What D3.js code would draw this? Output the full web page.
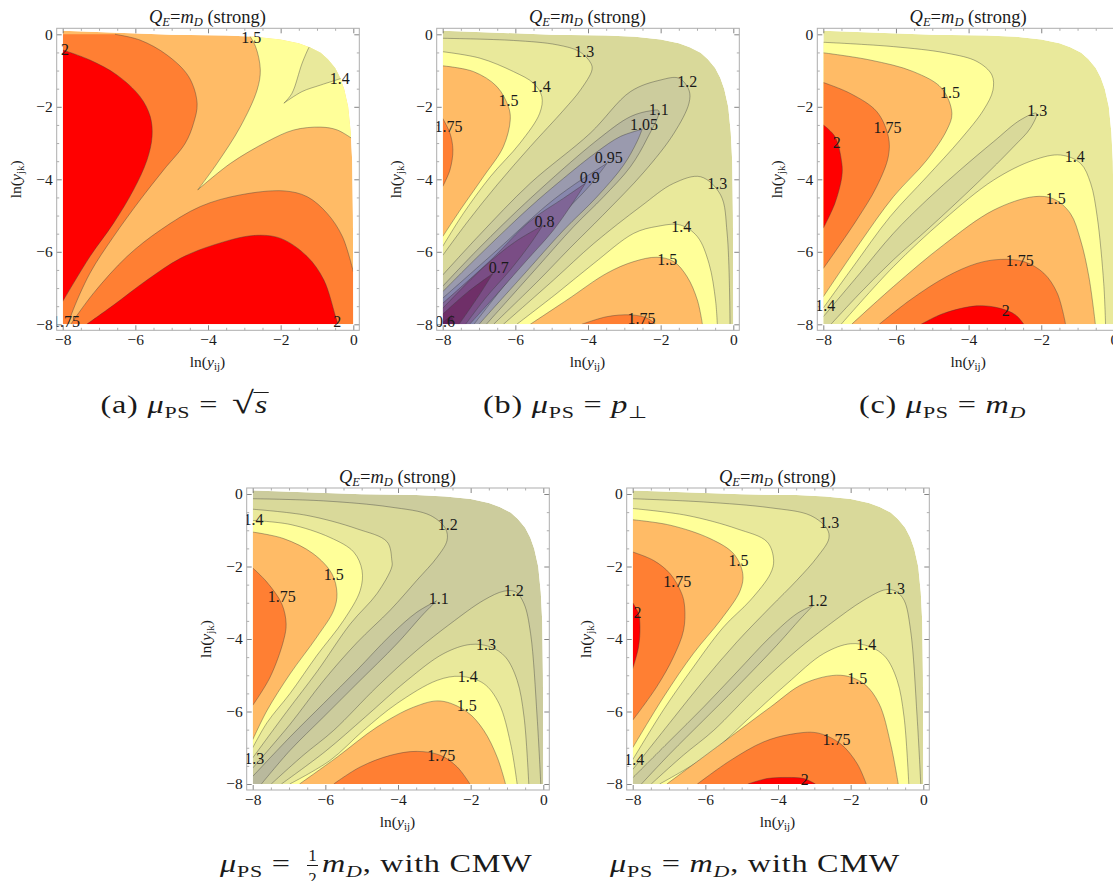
<!DOCTYPE html>
<html><head><meta charset="utf-8">
<script src="https://cdn.jsdelivr.net/npm/d3@7"></script>
<style>
html,body{margin:0;padding:0;background:#fff;overflow:hidden}
svg{display:block}
text{font-family:"Liberation Serif",serif;fill:#1a1a1a}
</style></head><body>
<svg id="c" width="1113" height="881"></svg>
<script>
// ---------- data ----------
const bandNames = ["gt2","b175","b15","b14","b13","b12","b11","b105","b095","b09","b08","b07","b06","lt06"];
const bandColors = ["#ff0000","#ff7f33","#ffbb66","#ffff99","#e9e99b","#d9d99a","#cccc9d","#b9b99d","#9a9aae","#8787ad","#7f6596","#7a4d85","#6f2f68","#5f1f5c"];
const majorTicks = [-8,-6,-4,-2,0];
const minorTicks = [-7.5,-7,-6.5,-5.5,-5,-4.5,-3.5,-3,-2.5,-1.5,-1,-0.5];
const domainEdge = [[-8,0.1],[-5,-0.01],[-3.5,-0.03],[-2.7,-0.07],[-2,-0.14],[-1.5,-0.25],[-1.2,-0.36],[-0.9,-0.51],[-0.7,-0.69],[-0.5,-0.93],[-0.36,-1.2],[-0.25,-1.51],[-0.14,-2.0],[-0.07,-2.7],[-0.03,-3.5],[-0.01,-5],[0,-8],[-8,-8]];

const aBase = "b15";
const aContours = [
 ["b175",[[-6.56,0],[-5.87,-.16],[-5.13,-.57],[-4.53,-1.17],[-4.3,-1.9],[-4.4,-2.46],[-4.63,-3.01],[-5.22,-3.74],[-5.87,-4.57],[-6.6,-5.58],[-7.25,-6.59],[-7.75,-7.7],[-7.84,-8]],[[-8,-8],[-8,0]]],
 ["gt2",[[-8,-.43],[-7.25,-.71],[-6.51,-1.12],[-5.87,-1.72],[-5.59,-2.27],[-5.54,-2.82],[-5.68,-3.47],[-6.05,-4.29],[-6.6,-5.21],[-7.25,-6.13],[-8,-7.37]],[]],
 ["b175",[[-7.78,-8],[-7.15,-7.14],[-6.23,-6.13],[-5.31,-5.4],[-4.21,-4.75],[-3.11,-4.43],[-1.91,-4.32],[-1.27,-4.48],[-.72,-4.94],[-.3,-5.58],[0,-6.55]],[[0,-8]]],
 ["gt2",[[-7.34,-8],[-6.6,-7.47],[-5.68,-6.78],[-4.76,-6.18],[-3.84,-5.81],[-2.74,-5.55],[-2,-5.63],[-1.27,-6.13],[-.81,-6.78],[-.49,-7.78],[-.42,-8]],[]],
 ["b14",[[-2.88,0],[-2.69,-.34],[-2.56,-.98],[-2.65,-1.54],[-3.11,-2.55],[-3.75,-3.56],[-4.28,-4.29],[-4.28,-4.29],[-3.38,-3.56],[-2.37,-2.96],[-1.64,-2.64],[-.9,-2.56],[-.44,-2.64],[0,-2.9]],[[0,0]]],
 ["b13",[[-1.18,-.3],[-1.22,-.36],[-1.41,-.8],[-1.69,-1.63],[-1.91,-1.9],[-1.91,-1.9],[-1.41,-1.58],[-.9,-1.4],[-.3,-1.2],[-.1,-1.1]],[[0,0]]]
];
const aLabels = [["1.5",-2.81,-.09],["2",-7.94,-.43],["1.4",-.37,-1.21],["1.75",-7.91,-7.91],["2",-.44,-7.91]];

const bBase = "b12";
const bContours = [
 ["b13",[[-8,-.11],[-6.05,-.17],[-4.85,-.29],[-4.23,-.48],[-3.92,-.8],[-3.89,-.98],[-4.21,-1.54],[-4.67,-2.09],[-5.59,-3.1],[-6.5,-4.15],[-7.3,-5.15],[-8,-6.1]],[]],
 ["b14",[[-8,-.48],[-6.97,-.66],[-6.05,-1.03],[-5.5,-1.35],[-5.27,-1.72],[-5.33,-2.18],[-5.87,-3],[-6.69,-3.93],[-7.43,-4.94],[-8,-5.85]],[]],
 ["b15",[[-8,-.87],[-7.15,-1.03],[-6.51,-1.44],[-6.19,-2],[-6.14,-2.36],[-6.33,-3.1],[-6.88,-3.93],[-7.52,-4.85],[-8,-5.58]],[]],
 ["b175",[[-8,-2.32],[-7.8,-2.73],[-7.72,-3.19],[-7.8,-3.74],[-8,-4.2]],[]],
 ["b13",[[-6.33,-8],[-4.95,-6.78],[-3.84,-5.77],[-2.55,-4.75],[-1.64,-4.11],[-.9,-3.93],[-.35,-4.43],[-.17,-5.49],[-.09,-8]],[]],
 ["b14",[[-5.96,-8],[-4.85,-7.14],[-3.84,-6.32],[-2.74,-5.49],[-2.1,-5.3],[-1.46,-5.26],[-.99,-5.58],[-.67,-6.32],[-.49,-7.33],[-.44,-8]],[]],
 ["b15",[[-5.59,-8],[-4.58,-7.33],[-3.48,-6.59],[-2.74,-6.27],[-2.1,-6.15],[-1.64,-6.27],[-1.27,-6.69],[-.99,-7.33],[-.85,-8]],[]],
 ["b175",[[-4.17,-8],[-3.48,-7.79],[-2.83,-7.74],[-2.37,-7.83],[-2.14,-8]],[]],
 ["b11",[[-8,-6.64],[-7,-5.55],[-5.59,-4.11],[-3.94,-2.73],[-2.83,-1.58],[-2,-1.26],[-1.5,-1.21],[-1.22,-1.54],[-1.22,-1.9],[-1.64,-2.74],[-2.46,-3.8],[-3.6,-5],[-4.5,-5.9],[-5.35,-6.78],[-6.6,-8]],[[-8,-8]]],
 ["b105",[[-8,-6.95],[-7,-5.9],[-5.59,-4.53],[-3.75,-2.92],[-2.83,-2.27],[-2.28,-2.11],[-2.05,-2.11],[-2.37,-2.87],[-2.83,-3.65],[-3.57,-4.48],[-4.4,-5.31],[-5.4,-6.43],[-6.3,-7.44],[-6.8,-8]],[[-8,-8]]],
 ["b095",[[-8,-7.1],[-7,-6.1],[-5.59,-4.76],[-4.67,-3.97],[-3.75,-3.24],[-3.11,-2.82],[-2.51,-2.62],[-2.51,-2.62],[-2.65,-2.96],[-3.02,-3.61],[-3.75,-4.48],[-4.67,-5.4],[-5.7,-6.55],[-6.6,-7.55],[-7,-8]],[[-8,-8]]],
 ["b09",[[-8,-7.28],[-6.5,-5.95],[-5.13,-4.71],[-4.4,-4.16],[-3.48,-3.56],[-3.48,-3.56],[-3.94,-4.16],[-4.67,-4.94],[-5.5,-5.95],[-6.4,-7.05],[-7.14,-8]],[[-8,-8]]],
 ["b08",[[-8,-7.42],[-6.7,-6.25],[-5.59,-5.15],[-4.67,-4.52],[-4.07,-4.11],[-4.07,-4.11],[-4.4,-4.62],[-4.95,-5.4],[-5.7,-6.25],[-6.6,-7.27],[-7.26,-8]],[[-8,-8]]],
 ["b07",[[-8,-7.56],[-6.9,-6.45],[-6,-5.72],[-5.25,-5.28],[-5.25,-5.28],[-5.6,-5.8],[-6.14,-6.5],[-6.8,-7.25],[-7.37,-8]],[[-8,-8]]],
 ["b06",[[-8,-7.72],[-7.3,-7.1],[-6.62,-6.6],[-6.62,-6.6],[-7,-7.2],[-7.55,-8]],[[-8,-8]]],
 ["lt06",[[-8,-7.95],[-7.75,-7.75],[-7.75,-7.75],[-7.7,-8]],[[-8,-8]]]
];
const bLabels = [["1.3",-4.1,-.46],["1.2",-1.27,-1.29],["1.4",-5.3,-1.44],["1.5",-6.19,-1.83],["1.1",-2.05,-2.07],["1.05",-2.46,-2.48],["1.75",-7.84,-2.55],["0.95",-3.43,-3.4],["0.9",-3.95,-3.95],["1.3",-.44,-4.11],["0.8",-5.2,-5.17],["1.4",-1.43,-5.31],["1.5",-1.82,-6.2],["0.7",-6.46,-6.44],["0.6",-7.94,-7.91],["1.75",-2.53,-7.85]];

const cBase = "b13";
const cContours = [
 ["b14",[[-8,-.22],[-6.07,-.34],[-4.6,-.52],[-3.77,-.75],[-3.36,-1.12],[-3.33,-1.54],[-3.59,-2.09],[-4.23,-2.91],[-5.15,-3.93],[-6.16,-5.03],[-7.17,-6.4],[-8,-7.55]],[]],
 ["b15",[[-8,-.51],[-6.71,-.71],[-5.52,-1.03],[-4.74,-1.49],[-4.46,-2.18],[-4.6,-2.64],[-5.15,-3.47],[-6.07,-4.48],[-6.99,-5.75],[-8,-7.24]],[]],
 ["b175",[[-8,-1.33],[-7.26,-1.63],[-6.53,-2.13],[-6.21,-2.82],[-6.21,-3.37],[-6.53,-4.2],[-7.08,-5.12],[-8,-6.46]],[]],
 ["gt2",[[-8,-2.5],[-7.68,-2.82],[-7.49,-3.56],[-7.49,-3.93],[-7.68,-4.66],[-8,-5.35]],[]],
 ["b14",[[-7.51,-8],[-6.07,-6.41],[-4.69,-5.12],[-3.31,-4.02],[-2.21,-3.47],[-1.47,-3.33],[-.92,-3.56],[-.64,-4.11],[-.46,-5.03],[-.28,-6.87],[-.23,-8]],[]],
 ["b15",[[-7.22,-8],[-6.07,-6.96],[-4.69,-5.81],[-3.31,-4.85],[-2.21,-4.48],[-1.66,-4.54],[-1.2,-4.94],[-.92,-5.67],[-.69,-6.68],[-.51,-8]],[]],
 ["b175",[[-6.46,-8],[-5.61,-7.33],[-4.6,-6.68],[-3.77,-6.32],[-3.13,-6.21],[-2.48,-6.27],[-1.93,-6.59],[-1.56,-7.14],[-1.33,-8]],[]],
 ["gt2",[[-5.31,-8],[-4.69,-7.7],[-3.77,-7.49],[-3.13,-7.56],[-2.71,-7.74],[-2.48,-8]],[]],
 ["b12",[[-8,-7.79],[-6.99,-6.59],[-6.07,-5.49],[-5.15,-4.57],[-4.23,-3.74],[-3.31,-2.96],[-2.57,-2.36],[-2.13,-2.18],[-2.3,-2.59],[-2.76,-3.1],[-3.77,-4.11],[-5.15,-5.4],[-6.07,-6.22],[-6.99,-7.14],[-7.79,-8]],[[-8,-8]]]
];
const cLabels = [["1.5",-4.51,-1.6],["1.3",-2.11,-2.11],["1.75",-6.23,-2.58],["2",-7.63,-2.97],["1.4",-1.08,-3.37],["1.5",-1.6,-4.52],["1.75",-2.59,-6.23],["1.4",-7.95,-7.47],["2",-2.98,-7.62]];

const dBase = "b11";
const dContours = [
 ["b12",[[-8,-.13],[-6.05,-.19],[-4.21,-.36],[-3.11,-.59],[-2.69,-.96],[-2.65,-1.28],[-2.92,-1.74],[-3.48,-2.38],[-4.21,-3.2],[-5.13,-4.1],[-6.05,-5.15],[-6.97,-6.35],[-8,-7.56]],[]],
 ["b13",[[-8,-.42],[-6.51,-.59],[-5.13,-.96],[-4.3,-1.32],[-4.17,-1.83],[-4.17,-2.01],[-4.58,-2.75],[-5.31,-3.58],[-6.23,-4.9],[-7.06,-6],[-8,-7.28]],[]],
 ["b14",[[-8,-.73],[-6.97,-.84],[-5.87,-1.2],[-5.22,-1.6],[-4.99,-2.11],[-5.04,-2.66],[-5.5,-3.49],[-6.23,-4.45],[-6.97,-5.5],[-7.6,-6.3],[-8,-7]],[]],
 ["b15",[[-8,-1.05],[-7.15,-1.23],[-6.33,-1.65],[-5.82,-2.2],[-5.68,-2.75],[-5.77,-3.21],[-6.23,-3.94],[-6.97,-4.96],[-7.61,-5.98],[-8,-6.78]],[]],
 ["b175",[[-8,-2.04],[-7.61,-2.43],[-7.2,-3.03],[-7.08,-3.58],[-7.15,-4.04],[-7.52,-5.05],[-8,-5.83]],[]],
 ["b12",[[-7.49,-8],[-6.6,-7.2],[-5.77,-6.52],[-4.58,-5.32],[-3.48,-4.31],[-2.56,-3.58],[-1.64,-2.93],[-1.08,-2.68],[-.76,-2.7],[-.53,-3.03],[-.35,-3.85],[-.17,-6.15],[-.07,-8]],[]],
 ["b13",[[-7.21,-8],[-6,-7.1],[-4.9,-6.15],[-3.75,-5.14],[-2.74,-4.4],[-2,-4.15],[-1.45,-4.22],[-1.04,-4.5],[-.72,-5.14],[-.53,-6.15],[-.4,-8]],[]],
 ["b14",[[-6.98,-8],[-5.87,-7.35],[-4.95,-6.52],[-4.03,-5.78],[-2.92,-5.14],[-2.28,-5.03],[-1.64,-5.23],[-1.22,-5.78],[-.9,-6.89],[-.72,-8]],[]],
 ["b15",[[-6.71,-8],[-5.68,-7.26],[-4.58,-6.43],[-3.57,-5.88],[-2.83,-5.71],[-2.1,-6.01],[-1.64,-6.52],[-1.27,-7.26],[-1.04,-8]],[]],
 ["b175",[[-5.77,-8],[-5.04,-7.53],[-4.21,-7.21],[-3.48,-7.1],[-2.83,-7.21],[-2.37,-7.53],[-2.02,-8]],[]],
 ["b105",[[-8,-7.79],[-6.97,-6.7],[-6.05,-5.78],[-5.13,-4.86],[-4.21,-3.9],[-3.48,-3.26],[-2.94,-2.95],[-2.94,-2.95],[-3.29,-3.3],[-4.03,-4.13],[-5.13,-5.23],[-6.05,-6.15],[-6.97,-7.07],[-7.76,-8]],[[-8,-8]]]
];
const dLabels = [["1.4",-7.98,-.71],["1.2",-2.63,-.83],["1.5",-5.77,-2.21],["1.75",-7.2,-2.82],["1.1",-2.88,-2.87],["1.2",-.81,-2.66],["1.3",-1.58,-4.15],["1.4",-2.08,-5.02],["1.5",-2.11,-5.83],["1.3",-7.96,-7.3],["1.75",-2.81,-7.21]];

const eBase = "b12";
const eContours = [
 ["b13",[[-8,-.13],[-6.05,-.22],[-4.21,-.38],[-3.11,-.59],[-2.65,-.96],[-2.6,-1.23],[-2.92,-1.74],[-3.48,-2.38],[-4.21,-3.12],[-5.13,-4.08],[-6.05,-5.15],[-6.97,-6.3],[-8,-7.6]],[]],
 ["b14",[[-8,-.4],[-6.51,-.59],[-5.13,-.96],[-4.3,-1.32],[-4.12,-1.83],[-4.21,-2.2],[-4.76,-2.93],[-5.5,-3.67],[-6.42,-4.9],[-7.15,-5.95],[-8,-7.33]],[]],
 ["b15",[[-8,-.71],[-6.97,-.86],[-5.87,-1.23],[-5.22,-1.65],[-4.97,-2.2],[-5.04,-2.66],[-5.59,-3.49],[-6.33,-4.4],[-7.15,-5.6],[-8,-7]],[]],
 ["b175",[[-8,-1.6],[-7.43,-1.83],[-6.97,-2.2],[-6.65,-2.75],[-6.57,-3.12],[-6.6,-3.76],[-6.88,-4.5],[-7.34,-5.32],[-8,-6.24]],[]],
 ["gt2",[[-8,-3],[-7.84,-3.3],[-7.8,-3.67],[-7.84,-4.22],[-8,-4.82]],[]],
 ["b13",[[-7.49,-8],[-6.6,-7.2],[-5.77,-6.52],[-4.58,-5.32],[-3.48,-4.31],[-2.56,-3.58],[-1.64,-2.93],[-1.04,-2.64],[-.76,-2.68],[-.53,-2.93],[-.35,-3.76],[-.17,-6.15],[-.07,-8]],[]],
 ["b14",[[-7.26,-8],[-5.87,-7.16],[-4.86,-6.24],[-3.75,-5.23],[-2.74,-4.4],[-2,-4.13],[-1.45,-4.22],[-1.04,-4.5],[-.72,-5.14],[-.53,-6.15],[-.4,-8]],[]],
 ["b15",[[-7.06,-8],[-5.31,-6.7],[-4.21,-5.88],[-3.29,-5.23],[-2.28,-5],[-1.64,-5.23],[-1.22,-5.78],[-.9,-6.89],[-.69,-8]],[]],
 ["b175",[[-6.22,-8],[-5.31,-7.35],[-4.4,-6.84],[-3.66,-6.63],[-2.92,-6.59],[-2.28,-6.89],[-1.82,-7.44],[-1.57,-8]],[]],
 ["gt2",[[-4.83,-8],[-4.3,-7.85],[-3.75,-7.82],[-3.29,-7.85],[-2.97,-8]],[]],
 ["b11",[[-8,-7.83],[-6.97,-6.8],[-6.05,-5.88],[-5.13,-4.91],[-4.21,-3.94],[-3.48,-3.3],[-3.03,-3.07],[-3.03,-3.07],[-3.38,-3.44],[-4.03,-4.17],[-5.13,-5.32],[-6.05,-6.24],[-6.97,-7.16],[-7.76,-8]],[[-8,-8]]]
];
const eLabels = [["1.3",-2.59,-.78],["1.5",-5.09,-1.83],["1.75",-6.77,-2.4],["1.3",-.78,-2.6],["1.2",-2.91,-2.93],["2",-7.87,-3.27],["1.4",-1.57,-4.14],["1.5",-1.82,-5.09],["1.75",-2.39,-6.78],["1.4",-7.96,-7.33],["2",-3.26,-7.87]];

// ---------- layout ----------
const plotW = 290.6, plotH = 290, pad = 6;
const panels = [
 {id:"a",left:62.7,top:34.3,base:aBase,contours:aContours,labels:aLabels},
 {id:"b",left:442.7,top:34.3,base:bBase,contours:bContours,labels:bLabels},
 {id:"c",left:823.3,top:34.3,base:cBase,contours:cContours,labels:cLabels},
 {id:"d",left:252.7,top:494,base:dBase,contours:dContours,labels:dLabels},
 {id:"e",left:632.7,top:494,base:eBase,contours:eContours,labels:eLabels}
];
const svg = d3.select("#c");
const defs = svg.append("defs");
const color = d3.scaleOrdinal(bandNames, bandColors);
const x = d3.scaleLinear([-8,0],[0,plotW]);
const y = d3.scaleLinear([0,-8],[0,plotH]);
const curve = d3.line().x(d=>x(d[0])).y(d=>y(d[1])).curve(d3.curveCatmullRom.alpha(0.5));
const straight = d3.line().x(d=>x(d[0])).y(d=>y(d[1]));

defs.append("clipPath").attr("id","domainClip").append("path").attr("d",straight(domainEdge)+"Z");
defs.append("clipPath").attr("id","frameClip").append("rect")
  .attr("x",-pad).attr("y",-pad).attr("width",plotW+2*pad).attr("height",plotH+2*pad);

panels.forEach(p=>{
  const g = svg.append("g").attr("transform",`translate(${p.left},${p.top})`);
  const fills = g.append("g").attr("clip-path","url(#domainClip)");
  fills.append("path").attr("d",straight(domainEdge)+"Z").attr("fill",color(p.base));
  p.contours.forEach(([band,pts,closing])=>{
    let d = curve(pts);
    closing.forEach(c=>{ d += `L${x(c[0])},${y(c[1])}`; });
    fills.append("path").attr("d",d+"Z").attr("fill",color(band));
    fills.append("path").attr("d",curve(pts)).attr("fill","none").attr("stroke","#3c3c3c").attr("stroke-opacity",.5).attr("stroke-width",.8);
  });
  const tickCol = "#8a8a8a";
  const fmt = d3.format("d");
  const axes = [
    [d3.axisBottom(x),0,plotH+pad,true],
    [d3.axisTop(x),0,-pad,false],
    [d3.axisLeft(y),-pad,0,true],
    [d3.axisRight(y),plotW+pad,0,false]
  ];
  axes.forEach(([ax,tx,ty,lab])=>{
    const minor = g.append("g").attr("transform",`translate(${tx},${ty})`)
      .call(ax.tickValues(minorTicks).tickSize(-2.5).tickFormat(""));
    minor.select(".domain").remove();
    minor.selectAll("line").attr("stroke",tickCol).attr("stroke-width",.7);
    const major = g.append("g").attr("transform",`translate(${tx},${ty})`)
      .call(ax.tickValues(majorTicks).tickSize(-5).tickPadding(lab?4:0).tickFormat(lab?fmt:""));
    major.select(".domain").remove();
    major.selectAll("line").attr("stroke","#666").attr("stroke-width",.8);
    major.selectAll("text").style("font-family",'"Liberation Serif",serif').style("font-size","15.5px").attr("fill","#1a1a1a");
  });
  g.append("rect").attr("x",-pad).attr("y",-pad).attr("width",plotW+2*pad).attr("height",plotH+2*pad)
    .attr("fill","none").attr("stroke","#adadad").attr("stroke-width",1);
  const lg = g.append("g").attr("clip-path","url(#frameClip)");
  p.labels.forEach(([t,lx,ly])=>{
    lg.append("text").attr("x",x(lx)).attr("y",y(ly)).attr("dy","0.35em").attr("text-anchor","middle")
      .style("font-size","16px").text(t);
  });
  const title = g.append("text").attr("x",plotW/2-.5).attr("y",-11.5).attr("text-anchor","middle").style("font-size","18.5px");
  title.append("tspan").style("font-style","italic").text("Q");
  title.append("tspan").style("font-style","italic").style("font-size","12.5px").attr("dy",3).text("E");
  title.append("tspan").attr("dy",-3).text("=");
  title.append("tspan").style("font-style","italic").text("m");
  title.append("tspan").style("font-style","italic").style("font-size","12.5px").attr("dy",3).text("D");
  title.append("tspan").attr("dy",-3).text(" (strong)");
  const xt = g.append("text").attr("x",plotW/2-.5).attr("y",plotH+43).attr("text-anchor","middle").style("font-size","15.5px");
  xt.append("tspan").text("ln(");
  xt.append("tspan").style("font-style","italic").text("y");
  xt.append("tspan").style("font-size","11px").attr("dy",3).text("ij");
  xt.append("tspan").attr("dy",-3).text(")");
  const yt = g.append("text").attr("transform",`translate(-41.5,${plotH/2}) rotate(-90)`).attr("text-anchor","middle").style("font-size","15.5px");
  yt.append("tspan").text("ln(");
  yt.append("tspan").style("font-style","italic").text("y");
  yt.append("tspan").style("font-size","11px").attr("dy",3).text("jk");
  yt.append("tspan").attr("dy",-3).text(")");
});

// ---------- captions ----------
const capStretch = 1.29;
function caption(xPos,yPos,parts){
  const cg = svg.append("g").attr("transform",`translate(${xPos},${yPos}) scale(${capStretch},1)`);
  const t = cg.append("text").style("font-size","25px").style("letter-spacing","0.6px");
  let shift = 0;
  parts.forEach(([s,kind])=>{
    const sp = t.append("tspan").text(s);
    const isSub = kind==="sub"||kind==="sub-i";
    const want = isSub?5:0;
    if(want!==shift){ sp.attr("dy",want-shift); shift=want; }
    if(kind==="i"||kind==="sub-i") sp.style("font-style","italic");
    if(isSub) sp.style("font-size","17px");
    if(kind==="root") sp.style("font-size","31px");
  });
  return cg;
}
caption(100.5,413,[["(a) ","r"],["μ","i"],["PS","sub"],[" =","r"]]);
const rootGroup = caption(232,413,[["√","root"],["s","i"]]);
const sBox = rootGroup.select("text").node().getExtentOfChar(1);
rootGroup.append("line").attr("x1",sBox.x-1).attr("x2",sBox.x+sBox.width+.5).attr("y1",-20.5).attr("y2",-20.5).attr("stroke","#1a1a1a").attr("stroke-width",1);
caption(483,413,[["(b) ","r"],["μ","i"],["PS","sub"],[" = ","r"],["p","i"],["⊥","sub"]]);
caption(859,413,[["(c) ","r"],["μ","i"],["PS","sub"],[" = ","r"],["m","i"],["D","sub-i"]]);
caption(220,872,[["μ","i"],["PS","sub"],[" =","r"]]);
svg.append("text").attr("x",312.5).attr("y",861).attr("text-anchor","middle").style("font-size","17px").text("1");
svg.append("line").attr("x1",307).attr("x2",318).attr("y1",865.5).attr("y2",865.5).attr("stroke","#1a1a1a").attr("stroke-width",1);
svg.append("text").attr("x",312.5).attr("y",884).attr("text-anchor","middle").style("font-size","17px").text("2");
caption(322,872,[["m","i"],["D","sub-i"],[", with CMW","r"]]);
caption(610,872,[["μ","i"],["PS","sub"],[" = ","r"],["m","i"],["D","sub-i"],[", with CMW","r"]]);
</script>
</body></html>
